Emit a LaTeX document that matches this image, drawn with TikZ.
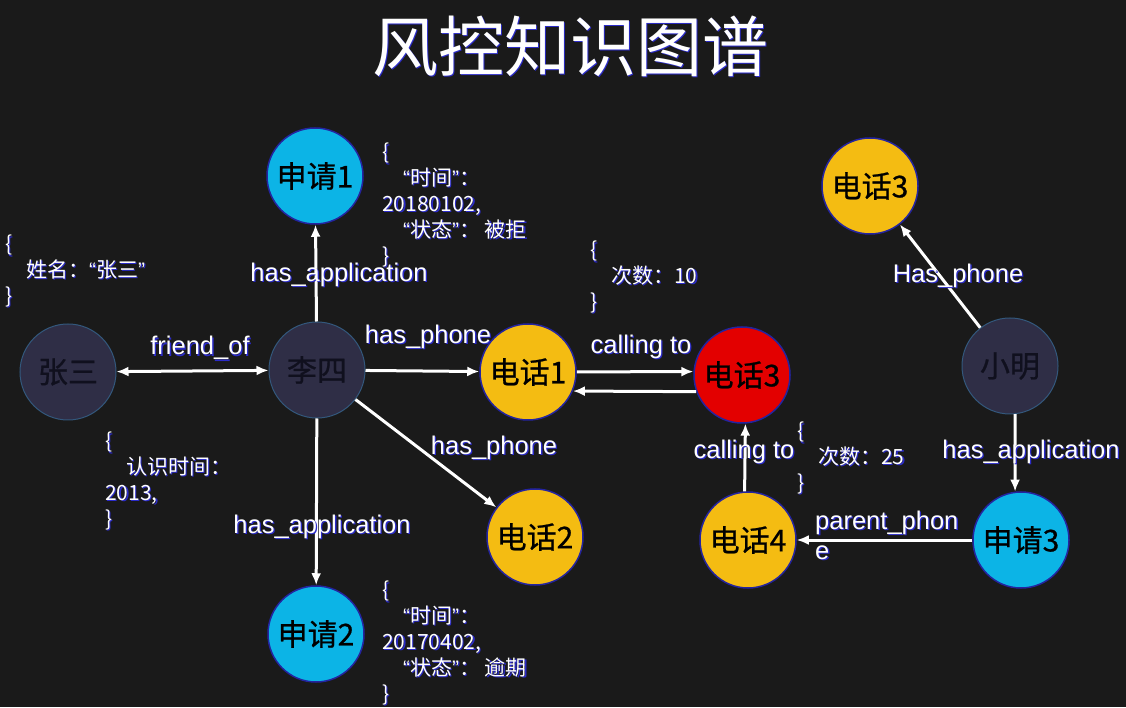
\documentclass[tikz,border=0pt]{standalone}
\usepackage{fontspec}
\setmainfont{Liberation Sans}
\newfontfamily\cjk{Noto Sans CJK SC}
\newfontfamily\cjkheavy{Noto Sans CJK SC}[FakeBold=0.8]
\usetikzlibrary{arrows.meta}
\definecolor{bg}{HTML}{1A1A1A}
\definecolor{ccyan}{HTML}{0CB4E6}
\definecolor{cyellow}{HTML}{F4BC12}
\definecolor{cred}{HTML}{E30000}
\definecolor{cperson}{HTML}{2F2E46}
\definecolor{cpersonrim}{HTML}{33587C}
\definecolor{cpersontxt}{HTML}{10101E}
\definecolor{crim}{HTML}{2424A0}
\definecolor{cglow}{HTML}{2B2BC8}
\colorlet{txt}{white}
\newcommand\ttlfont{\cjk\fontsize{66}{70}\selectfont}
\newcommand\entfont{\cjkheavy\fontsize{30}{34}\selectfont}
\newcommand\relfont{\fontsize{25.5}{30}\selectfont}
\newcommand\notefont{\cjk\fontsize{21}{25.8}\selectfont}
\newcommand\oq{{\rmfamily “}}
\newcommand\cq{{\rmfamily ”}}
\tikzset{
  >={Latex[length=12pt,width=10pt]},
  ent/.style={circle,minimum size=96pt,inner sep=0pt,line width=1.5pt,font=\entfont,text=black},
  person/.style={ent,fill=cperson,draw=cpersonrim,line width=1pt,text=cpersontxt},
  appl/.style={ent,fill=ccyan,draw=crim},
  phone/.style={ent,fill=cyellow,draw=crim},
  hot/.style={ent,fill=cred,draw=crim},
  rel/.style={->,draw=white,line width=3pt},
  lbl/.style={font=\relfont,text=txt,inner sep=0pt},
  note/.style={font=\notefont,text=txt,align=left,anchor=north west,inner sep=0pt},
}
\begin{document}
\begin{tikzpicture}[x=1pt,y=1pt]
  \useasboundingbox (0,0) rectangle (1126,707);
  \fill[bg] (0,0) rectangle (1126,707);
  % entities
  \node[person] (zs)  at (68,335)   {张三};
  \node[person] (ls)  at (317,337)  {李四};
  \node[person] (xm)  at (1010,341) {小明};
  \node[appl]   (sq1) at (315,531)  {申请1};
  \node[appl]   (sq2) at (316,73)   {申请2};
  \node[appl]   (sq3) at (1021,167) {申请3};
  \node[phone]  (dh1) at (528,335)  {电话1};
  \node[phone]  (dh2) at (535,170)  {电话2};
  \node[phone]  (dh4) at (748,167)  {电话4};
  \node[phone]  (dh3b) at (870,521) {电话3};
  \node[hot]    (dh3) at (742,332)  {电话3};
  % relations
  \draw[rel,<->] (zs) -- (ls);
  \draw[rel] (ls) -- (sq1);
  \draw[rel] (ls) -- (sq2);
  \draw[rel] (ls) -- (dh1);
  \draw[rel] (ls) -- (dh2);
  \draw[rel] (dh1) -- (dh3.176);
  \draw[rel] (dh3.200) -- (dh1.-23);
  \draw[rel] (dh4.94) -- (dh3.-86);
  \draw[rel] (xm) -- (dh3b);
  \draw[rel] (xm.-84) -- (sq3.97);
  \draw[rel] (sq3) -- (dh4);
  % texts, blue halo first, then white
  \foreach \dx/\dy/\c in {1.3/-1.3/cglow,0/0/white}{
    \begin{scope}[shift={(\dx,\dy)}]
      \colorlet{txt}{\c}
      \node[font=\ttlfont,text=txt] (title) at (570,661) {风控知识图谱};
      % relation labels
      \node[lbl] (lfriend) at (200,359)  {friend\_of};
      \node[lbl] (lapp1)   at (339,432)  {has\_application};
      \node[lbl] (lph1)    at (428,370)  {has\_phone};
      \node[lbl] (lph2)    at (494,259)  {has\_phone};
      \node[lbl] (lapp2)   at (322,180)  {has\_application};
      \node[lbl] (lcall1)  at (641,360)  {calling to};
      \node[lbl] (lcall2)  at (744,255)  {calling to};
      \node[lbl] (lph3)    at (958,431)  {Has\_phone};
      \node[lbl] (lapp3)   at (1031,255) {has\_application};
      \node[lbl,align=left,anchor=west] (lparent) at (815,172) {parent\_phon\\e};
      % properties
      \node[note] (pzs)  at (5,472)   {\{\\\hspace*{1em}姓名：\oq 张三\cq\\\}};
      \node[note] (pfr)  at (105,275) {\{\\\hspace*{1em}认识时间：\\2013,\\\}};
      \node[note] (psq1) at (382,564) {\{\\\hspace*{1em}\oq 时间\cq：\\20180102,\\\hspace*{1em}\oq 状态\cq： 被拒\\\}};
      \node[note] (psq2) at (382,126) {\{\\\hspace*{1em}\oq 时间\cq：\\20170402,\\\hspace*{1em}\oq 状态\cq： 逾期\\\}};
      \node[note] (pc10) at (590,466) {\{\\\hspace*{1em}次数：10\\\}};
      \node[note] (pc25) at (797,285) {\{\\\hspace*{1em}次数：25\\\}};
    \end{scope}
  }
\end{tikzpicture}
\end{document}
